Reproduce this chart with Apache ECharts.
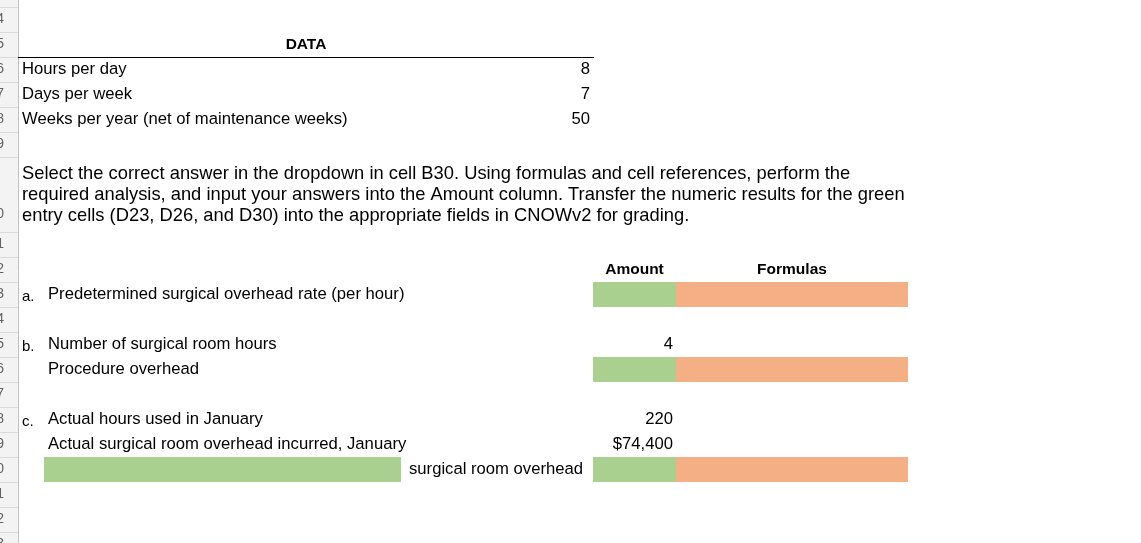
<!DOCTYPE html>
<html>
<head>
<meta charset="utf-8">
<script src="https://cdn.jsdelivr.net/npm/echarts@6/dist/echarts.min.js"></script>
<style>
html,body{margin:0;padding:0;background:#fff;}
#chart{width:1141px;height:543px;}
</style>
</head>
<body>
<div id="chart"></div>
<script>
// ---- data ----
const rowNumbers = [13,14,15,16,17,18,19,20,21,22,23,24,25,26,27,28,29,30,31,32,33];
const dataTitle = 'DATA';
const dataLabels = ['Hours per day', 'Days per week', 'Weeks per year (net of maintenance weeks)'];
const dataValues = [8, 7, 50];
const instructionLines = [
  'Select the correct answer in the dropdown in cell B30. Using formulas and cell references, perform the',
  'required analysis, and input your answers into the Amount column. Transfer the numeric results for the green',
  'entry cells (D23, D26, and D30) into the appropriate fields in CNOWv2 for grading.'
];
const columnHeaders = ['Amount', 'Formulas'];
const itemLetters = ['a.', 'b.', 'c.'];
const itemLabels = ['Predetermined surgical overhead rate (per hour)', 'Number of surgical room hours', 'Procedure overhead',
  'Actual hours used in January', 'Actual surgical room overhead incurred, January'];
const itemAmounts = [null, 4, null, 220, 74400];
const itemCurrency = [false, false, false, false, true];
const dropdownSuffix = 'surgical room overhead';

// ---- layout ----
const W = 1141, H = 543, ROWPX = 25, TOPOFF = 7;
const tallRows = {20: 3};
function rowTop(r){ let t = -1; for (let k = 13; k < r; k++) t += (tallRows[k] || 1); return t; }
function rowBot(r){ return rowTop(r) + (tallRows[r] || 1); }
const X = {hdr:18, A:18, B:44, C:401, D:593, E:676, F:908};
const FONT = '"Liberation Sans", Arial, sans-serif';
const GREEN = '#a9d08e', ORANGE = '#f4b084';
const BASE = 16.67, PARA = 18.33, HEAD = 15.5;

const cells = [];
function add(o){ cells.push(o); }

// row header
add({type:'rect', x0:0, x1:X.hdr, r0:rowTop(13), r1:rowBot(33), fill:'#f3f3f3'});
rowNumbers.forEach(r => {
  add({type:'line', x0:0, x1:X.hdr, r0:rowTop(r), r1:rowTop(r), stroke:'#dadada'});
  const tall = tallRows[r] ? (tallRows[r] - 1) : 0;
  add({type:'text', x:4, r0:rowTop(r) + tall, r1:rowBot(r), text:String(r), align:'right', size:14, color:'#5f6368', dy: tall ? -5 : 0});
});
add({type:'line', x0:X.hdr, x1:X.hdr, r0:rowTop(13), r1:rowBot(33), stroke:'#c0c0c0'});

// DATA block
add({type:'text', x:(X.A + X.D + 1) / 2, r0:rowTop(15), r1:rowBot(15), text:dataTitle, align:'center', bold:true, size:HEAD});
add({type:'line', x0:X.A, x1:X.D + 1, r0:rowBot(15), r1:rowBot(15), stroke:'#000'});
dataLabels.forEach((lab, i) => {
  const r = 16 + i;
  add({type:'text', x:22, r0:rowTop(r), r1:rowBot(r), text:lab, align:'left'});
  add({type:'text', x:590, r0:rowTop(r), r1:rowBot(r), text:String(dataValues[i]), align:'right'});
});

// instructions
add({type:'text', x:22, r0:rowTop(20), r1:rowBot(20), text:instructionLines.join('\n'), align:'left', size:PARA, lh:21});

// headers
add({type:'text', x:(X.D + X.E) / 2, r0:rowTop(22), r1:rowBot(22), text:columnHeaders[0], align:'center', bold:true, size:HEAD});
add({type:'text', x:(X.E + X.F) / 2, r0:rowTop(22), r1:rowBot(22), text:columnHeaders[1], align:'center', bold:true, size:HEAD});
add({type:'line', x0:X.D, x1:X.F, r0:rowBot(22), r1:rowBot(22), stroke:'#000'});

// items
const itemRows = [23, 25, 26, 28, 29];
const letterRows = [23, 25, 28];
const entryRows = [23, 26, 30];
entryRows.forEach(r => {
  add({type:'rect', x0:X.D, x1:X.E, r0:rowTop(r), r1:rowBot(r), fill:GREEN});
  add({type:'rect', x0:X.E, x1:X.F, r0:rowTop(r), r1:rowBot(r), fill:ORANGE});
});
add({type:'rect', x0:X.B, x1:X.C, r0:rowTop(30), r1:rowBot(30), fill:GREEN});
letterRows.forEach((r, i) => {
  add({type:'text', x:22, r0:rowTop(r), r1:rowBot(r), text:itemLetters[i], align:'left', size:15, dy:2.5});
});
itemRows.forEach((r, i) => {
  add({type:'text', x:48, r0:rowTop(r), r1:rowBot(r), text:itemLabels[i], align:'left'});
  if (itemAmounts[i] != null) {
    const v = itemCurrency[i] ? '$' + itemAmounts[i].toLocaleString('en-US') : String(itemAmounts[i]);
    add({type:'text', x:673, r0:rowTop(r), r1:rowBot(r), text:v, align:'right'});
  }
});
add({type:'text', x:409, r0:rowTop(30), r1:rowBot(30), text:dropdownSuffix, align:'left'});

const yMin = -TOPOFF / ROWPX, yMax = yMin + H / ROWPX;

const chart = echarts.init(document.getElementById('chart'), null, {renderer:'canvas'});
chart.setOption({
  animation:false,
  backgroundColor:'#ffffff',
  grid:{left:0, right:0, top:0, bottom:0},
  xAxis:{type:'value', min:0, max:W, show:false},
  yAxis:{type:'value', min:yMin, max:yMax, inverse:true, show:false},
  series:[{
    type:'custom',
    coordinateSystem:'cartesian2d',
    silent:true,
    clip:false,
    data: cells.map((c, i) => [i, 0]),
    encode:{x:-1, y:-1},
    renderItem:function(params, api){
      const c = cells[api.value(0)];
      if (c.type === 'rect') {
        const p0 = api.coord([c.x0, c.r0]), p1 = api.coord([c.x1, c.r1]);
        return {type:'rect', shape:{x:p0[0], y:p0[1], width:p1[0]-p0[0], height:p1[1]-p0[1]}, style:{fill:c.fill}};
      }
      if (c.type === 'line') {
        const p0 = api.coord([c.x0, c.r0]), p1 = api.coord([c.x1, c.r1]);
        const sx = (v) => Math.round(v) + 0.5;
        const horiz = p0[1] === p1[1];
        return {type:'line', shape: horiz ? {x1:p0[0], y1:sx(p0[1]), x2:p1[0], y2:sx(p1[1])} : {x1:sx(p0[0]), y1:p0[1], x2:sx(p1[0]), y2:p1[1]},
          style:{stroke:c.stroke, lineWidth:1}};
      }
      const pTop = api.coord([c.x, c.r0]), pBot = api.coord([c.x, c.r1]);
      return {type:'text', x:pTop[0], y:(pTop[1] + pBot[1]) / 2 + (c.dy || 0),
        style:{text:c.text, align:c.align, verticalAlign:'middle', fill:c.color || '#000',
          font:(c.bold ? 'bold ' : '') + (c.size || BASE) + 'px ' + FONT, lineHeight:c.lh || undefined}};
    }
  }]
});
</script>
</body>
</html>
